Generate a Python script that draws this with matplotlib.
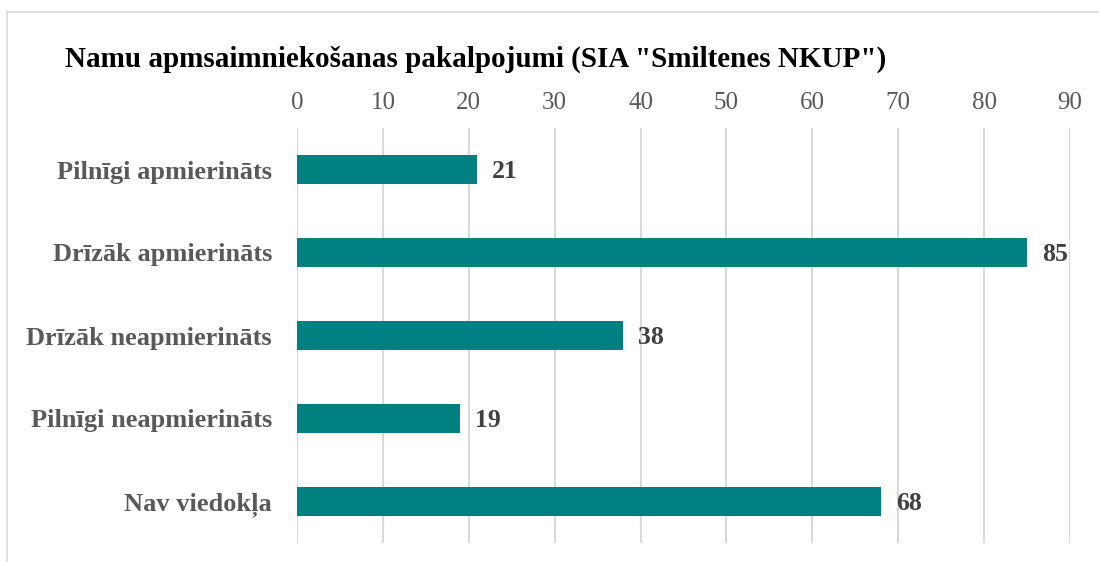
import matplotlib.pyplot as plt
from matplotlib.lines import Line2D

categories = ['Pilnīgi apmierināts', 'Drīzāk apmierināts', 'Drīzāk neapmierināts',
              'Pilnīgi neapmierināts', 'Nav viedokļa']
values = [21, 85, 38, 19, 68]
ticks = [0, 10, 20, 30, 40, 50, 60, 70, 80, 90]
title = 'Namu apmsaimniekošanas pakalpojumi (SIA "Smiltenes NKUP")'

plt.rcParams['font.family'] = ['Liberation Serif', 'DejaVu Serif']

fig = plt.figure(figsize=(10.99, 5.62), dpi=100)
ax = fig.add_axes([297 / 1099, 1 - 543 / 562, (1070 - 297) / 1099, (543 - 128) / 562])

ypos = list(range(len(categories)))
ax.barh(ypos, values, height=0.34, color='#008080', zorder=3)
for y, v in zip(ypos, values):
    ax.text(v + 1.7, y + 0.02, str(v), va='center', ha='left', fontsize=18.5,
            fontweight='bold', color='#404040')

ax.set_ylim(len(categories) - 0.5, -0.5)
ax.set_xlim(0, 90)
ax.set_yticks(ypos)
ax.set_yticklabels(categories, fontsize=19, fontweight='bold', color='#595959')
ax.set_xticks(ticks)
ax.xaxis.tick_top()
ax.tick_params(axis='x', length=0, pad=10, labelsize=18, labelcolor='#595959')
ax.tick_params(axis='y', length=0, pad=18)
ax.grid(axis='x', color='#d9d9d9', linewidth=1.5, zorder=0)
for s in ax.spines.values():
    s.set_visible(False)

fig.text(65 / 1099, 1 - 59 / 562, title, fontsize=21, fontweight='bold',
         color='black', ha='left', va='center')

# outer frame (top and left edges visible)
fig.add_artist(Line2D([7 / 1099, 1], [1 - 12 / 562, 1 - 12 / 562], color='#d9d9d9', lw=1.2))
fig.add_artist(Line2D([7 / 1099, 7 / 1099], [0, 1 - 12 / 562], color='#d9d9d9', lw=1.2))

fig.savefig('out.png', dpi=100)
